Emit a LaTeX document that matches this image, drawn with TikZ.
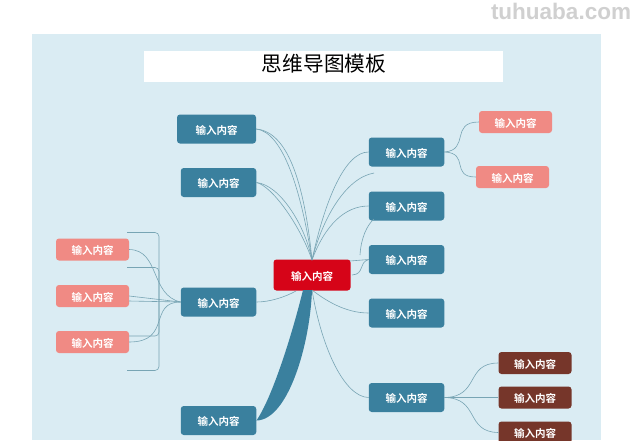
\documentclass[tikz,border=0pt]{standalone}
\usepackage{fontspec}
\setmainfont{Liberation Sans}
\newfontfamily\cjk{Noto Sans CJK SC}[BoldFont={Noto Sans CJK SC Bold}]
\definecolor{bgc}{RGB}{218,236,243}
\definecolor{teal}{RGB}{58,128,158}
\definecolor{pinkc}{RGB}{240,138,132}
\definecolor{brownc}{RGB}{118,54,42}
\definecolor{redc}{RGB}{214,4,24}
\definecolor{linec}{RGB}{120,165,180}
\definecolor{wmk}{RGB}{208,208,208}
\tikzset{
 x=1pt,y=-1pt,
 box/.style={rounded corners=3pt,text=white,font=\cjk\bfseries\fontsize{10.5pt}{12pt}\selectfont,inner sep=0pt,align=center,text depth=0pt,text height=10.5pt},
 bluebox/.style={box,fill=teal,minimum width=75.5pt,minimum height=29pt},
 pinkbox/.style={box,fill=pinkc,minimum width=73pt,minimum height=22pt},
 brownbox/.style={box,fill=brownc,minimum width=73pt,minimum height=22pt},
 redbox/.style={box,fill=redc,minimum width=77pt,minimum height=31pt},
 conn/.style={draw=linec,line width=0.6pt},
}
\begin{document}
\begin{tikzpicture}
\useasboundingbox (0,0) rectangle (634,440);
\fill[white] (0,0) rectangle (634,440);
\fill[bgc] (32,34) rectangle (601,440);
\node[fill=white,minimum width=359pt,minimum height=31pt,inner sep=0pt] (title) at (323.5,66) {};
\node[font=\cjk\fontsize{20.7pt}{24pt}\selectfont] (titletext) at (324,64) {思维导图模板};
\node[font=\bfseries\fontsize{22.5pt}{24pt}\selectfont,text=wmk] (wm) at (561,11) {tuhuaba.com};
\coordinate (hub) at (312,260);
\coordinate (hubb) at (312,290);
\node[bluebox,minimum width=79pt] (a1) at (216.5,129) {输入内容};
\node[bluebox] (a2) at (218.5,182.5) {输入内容};
\node[bluebox] (a3) at (218.5,302) {输入内容};
\node[bluebox] (a4) at (218.5,420.5) {输入内容};
\node[bluebox] (b1) at (406.5,152) {输入内容};
\node[bluebox] (b2) at (406.5,206) {输入内容};
\node[bluebox] (b3) at (406.5,259.5) {输入内容};
\node[bluebox] (b4) at (406.5,313) {输入内容};
\node[bluebox] (b5) at (406.5,397.5) {输入内容};
\node[pinkbox] (p1) at (515.5,122) {输入内容};
\node[pinkbox] (p2) at (512.5,177) {输入内容};
\node[pinkbox] (l1) at (92.5,249.5) {输入内容};
\node[pinkbox] (l2) at (92.5,296) {输入内容};
\node[pinkbox] (l3) at (92.5,342) {输入内容};
\node[brownbox] (r1) at (535,363) {输入内容};
\node[brownbox] (r2) at (535,397.5) {输入内容};
\node[brownbox] (r3) at (535,432.5) {输入内容};
\node[redbox] (c) at (312,275) {输入内容};
\path[conn] (a1.east) .. controls (283,132) and (301,190) .. (hub);
\path[conn] (a1.east) .. controls (290,132) and (305,190) .. (hub);
\path[conn] (a2.east) .. controls (280,185) and (305,225) .. (hub);
\path[conn] (a2.east) .. controls (272,186) and (300,225) .. (hub);
\path[conn] (b1.west) .. controls (345,152) and (325,200) .. (hub);
\coordinate (b1s) at (374,173);
\path[conn] (b1s) .. controls (345,178) and (322,220) .. (hub);
\path[conn] (b2.west) .. controls (345,206) and (325,225) .. (hub);
\coordinate (b3s) at (360,255);
\coordinate (b2s) at (374,219);
\path[conn] (b3s) .. controls (361,238) and (367,225) .. (b2s);
\coordinate (c2) at (350,261);
\path[conn] (b3.west) -- (c2);
\coordinate (c3) at (352,275);
\path[conn] (c3) .. controls (365,274) and (358,263) .. (b3.west);
\path[conn] (b4.west) .. controls (345,313) and (325,300) .. (hubb);
\path[conn] (b5.west) .. controls (345,397) and (322,350) .. (hubb);
\coordinate (c4) at (296,291);
\path[conn] (a3.east) .. controls (270,302) and (285,297) .. (c4);
\fill[teal] (a4.east) .. controls (272,398) and (292,335) .. (303,290) -- (312,290) .. controls (310,345) and (288,420) .. (a4.east) -- cycle;
\path[conn] (b1.east) .. controls (470,150) and (450,122) .. (p1.west);
\path[conn] (b1.east) .. controls (470,153) and (450,177) .. (p2.west);
\path[conn] (b5.east) .. controls (480,397) and (465,363) .. (r1.west);
\path[conn] (b5.east) -- (r2.west);
\path[conn] (b5.east) .. controls (480,398) and (465,432) .. (r3.west);
\path[conn] (l1.east) .. controls (160,250) and (150,295) .. (a3.west);
\path[conn] (l2.east) -- (a3.west);
\coordinate (l2b) at (129,301);
\path[conn] (l2b) -- (a3.west);
\path[conn] (l3.east) .. controls (172,342) and (148,302) .. (a3.west);
\coordinate (br1) at (127,232.5);
\coordinate (br2) at (127,370.5);
\coordinate (br3) at (127,267.5);
\coordinate (br4) at (129,336);
\path[conn,rounded corners=4pt] (br1) -- (159,232.5) -- (159,370.5) -- (br2);
\path[conn,rounded corners=4pt] (br3) -- (159,267.5) -- (159,336) -- (br4);
\end{tikzpicture}
\end{document}
